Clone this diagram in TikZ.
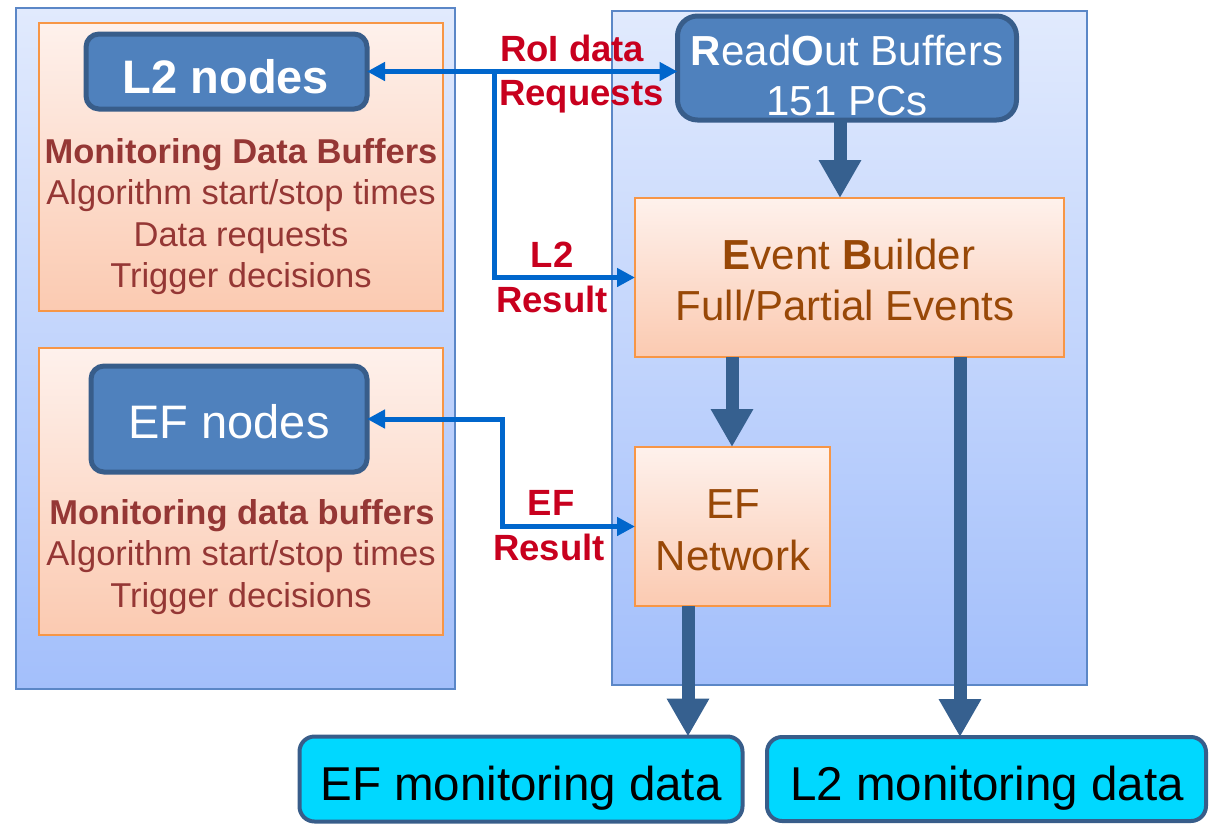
\documentclass[tikz,border=0pt]{standalone}
\usepackage{fontspec}
\setmainfont{Liberation Sans}
\usetikzlibrary{arrows.meta}

\definecolor{panelline}{HTML}{5B87C7}
\definecolor{paneltop}{HTML}{E1EAFD}
\definecolor{panelbot}{HTML}{A3BFFB}
\definecolor{boxline}{HTML}{F79646}
\definecolor{boxtop}{HTML}{FEF1EC}
\definecolor{boxbot}{HTML}{FBCAB1}
\definecolor{nodefill}{HTML}{4F81BD}
\definecolor{nodeline}{HTML}{385D8A}
\definecolor{dred}{HTML}{953735}
\definecolor{brown}{HTML}{984807}
\definecolor{lblred}{HTML}{C8001E}
\definecolor{flow}{HTML}{36608F}
\definecolor{link}{HTML}{0066CC}
\definecolor{cyanbox}{HTML}{00D8FF}

\newcommand\fsSmall{\fontsize{34.5}{41}\selectfont}
\newcommand\fsMid{\fontsize{42}{50}\selectfont}
\newcommand\fsBig{\fontsize{47}{56}\selectfont}
\newcommand\fsLbl{\fontsize{36.5}{44}\selectfont\bfseries}

\begin{document}
\begin{tikzpicture}[x=1pt,y=-1pt,
  panel/.style={rectangle, draw=panelline, line width=2pt, top color=paneltop,
    bottom color=panelbot, inner sep=0pt, outer sep=0pt},
  infobox/.style={rectangle, draw=boxline, line width=2pt, top color=boxtop,
    bottom color=boxbot, inner sep=0pt, outer sep=0pt},
  farm/.style={rectangle, rounded corners=13pt, draw=nodeline, line width=5pt,
    fill=nodefill, inner sep=0pt, outer sep=0pt},
  outbox/.style={rectangle, rounded corners=15pt, draw=nodeline, line width=4pt,
    fill=cyanbox, inner sep=0pt, outer sep=0pt},
  txt/.style={inner sep=0pt, anchor=base},
  flowarrow/.style={draw=flow, line width=13pt,
    -{Triangle[length=38pt,width=40pt]}},
  linkline/.style={draw=link, line width=5pt},
  tip/.tip={Triangle[length=18pt,width=18pt]}
]
\useasboundingbox (0,0) rectangle (1211,823);

% background panels
\node[panel, minimum width=439pt, minimum height=681pt] (lpanel) at (235.5,348.5) {};
\node[panel, minimum width=475pt, minimum height=674pt] (rpanel) at (849.5,348) {};

% monitoring buffers of the trigger farms
\node[infobox, minimum width=404pt, minimum height=288pt] (l2buf) at (241,167) {};
\node[infobox, minimum width=404pt, minimum height=287pt] (efbuf) at (241,491.5) {};

% farm nodes
\node[farm, minimum width=281pt, minimum height=75pt] (l2) at (226.5,71.5) {};
\node[txt, text=white, font=\fsBig\bfseries] (l2t) at (226,93) {L2 nodes};
\node[farm, minimum width=276pt, minimum height=106pt] (efn) at (229,419) {};
\node[txt, text=white, font=\fsBig] (eft) at (229,438) {EF nodes};

% buffer contents
\node[txt, text=dred, font=\fsSmall\bfseries] (l2a) at (241,163) {Monitoring Data Buffers};
\node[txt, text=dred, font=\fsSmall] (l2b) at (241,204) {Algorithm start/stop times};
\node[txt, text=dred, font=\fsSmall] (l2c) at (241,246) {Data requests};
\node[txt, text=dred, font=\fsSmall] (l2d) at (241,287) {Trigger decisions};
\node[txt, text=dred, font=\fsSmall\bfseries] (efa) at (242,524) {Monitoring data buffers};
\node[txt, text=dred, font=\fsSmall] (efb) at (241,565) {Algorithm start/stop times};
\node[txt, text=dred, font=\fsSmall] (efc) at (241,607) {Trigger decisions};

% readout and event building
\node[farm, rounded corners=20pt, minimum width=339pt, minimum height=104pt] (rob) at (847,68) {};
\node[txt, text=white, font=\fsMid] (roba) at (847,65) {\textbf{R}ead\textbf{O}ut Buffers};
\node[txt, text=white, font=\fsMid] (robb) at (847,115) {151 PCs};

\node[infobox, minimum width=429pt, minimum height=159pt] (eb) at (849.5,277.5) {};
\node[txt, text=brown, font=\fsMid] (eba) at (849,269) {\textbf{E}vent \textbf{B}uilder};
\node[txt, text=brown, font=\fsMid] (ebb) at (845,320) {Full/Partial Events};

\node[infobox, minimum width=195pt, minimum height=159pt] (efnet) at (732.5,526.5) {};
\node[txt, text=brown, font=\fsMid] (efneta) at (733,518) {EF};
\node[txt, text=brown, font=\fsMid] (efnetb) at (733,570) {Network};

% monitoring outputs
\node[outbox, minimum width=443pt, minimum height=85pt] (efmon) at (521,779) {};
\node[txt, text=black, font=\fontsize{47.5}{56}\selectfont] (efmont) at (521,800) {EF monitoring data};
\node[outbox, minimum width=439pt, minimum height=84pt] (l2mon) at (986.5,779) {};
\node[txt, text=black, font=\fontsize{47.5}{56}\selectfont] (l2mont) at (987,800) {L2 monitoring data};

% data flow
\coordinate (xa) at (840,0);
\coordinate (xb) at (732,0);
\coordinate (xc) at (688,0);
\coordinate (xd) at (960,0);
\draw[flowarrow] (rob.south -| xa) -- (eb.north -| xa);
\draw[flowarrow] (eb.south -| xb) -- (efnet.north -| xb);
\draw[flowarrow] (efnet.south -| xc) -- (efmon.north -| xc);
\draw[flowarrow] (eb.south -| xd) -- (l2mon.north -| xd);

% request and result links
\coordinate (split) at (494,71.5);
\coordinate (efbend) at (502,0);
\draw[linkline, tip-tip] (l2.east) -- (l2.east -| rob.west);
\draw[linkline, -tip] (split) |- (eb.west);
\draw[linkline, tip-tip] (efn.east) -| (efbend |- efnet.west) -- (efnet.west);

% link labels
\node[txt, anchor=base west, text=lblred, font=\fsLbl] (roia) at (500,61) {RoI data};
\node[txt, anchor=base west, text=lblred, font=\fsLbl] (roib) at (499,105) {Requests};
\node[txt, text=lblred, font=\fsLbl] (l2ra) at (552,267) {L2};
\node[txt, text=lblred, font=\fsLbl] (l2rb) at (552,312) {Result};
\node[txt, text=lblred, font=\fsLbl] (efra) at (551,515) {EF};
\node[txt, text=lblred, font=\fsLbl] (efrb) at (549,560) {Result};
\end{tikzpicture}
\end{document}
